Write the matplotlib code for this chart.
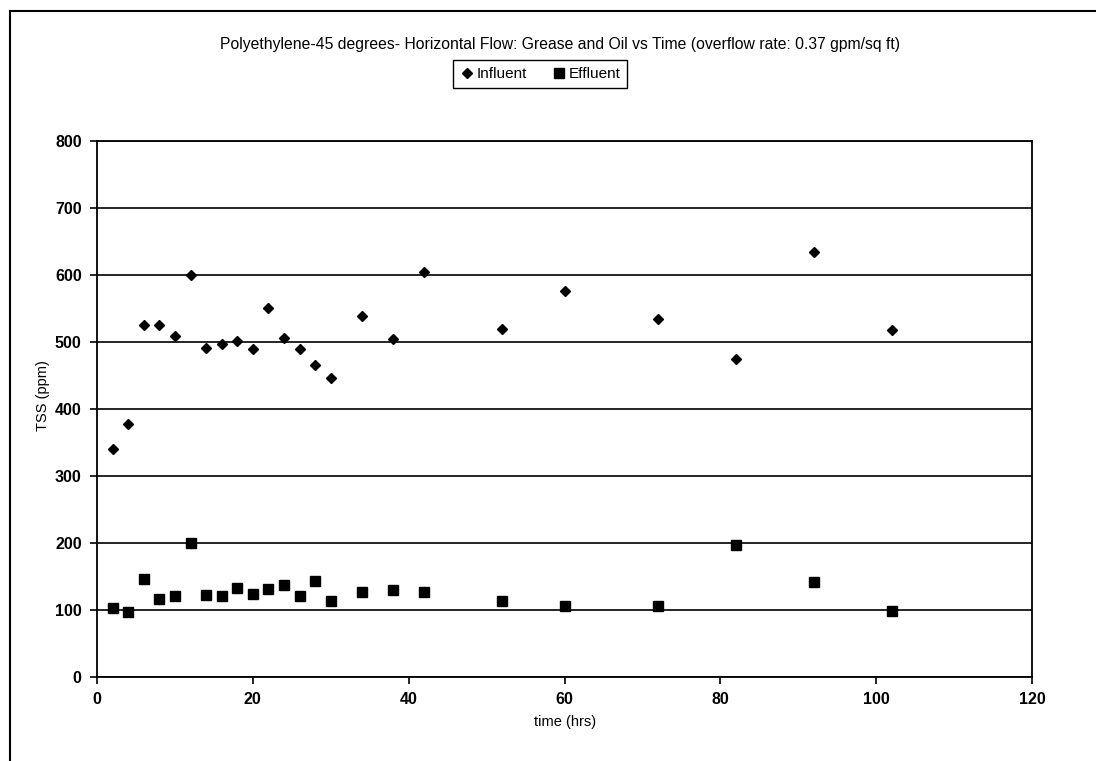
import matplotlib
matplotlib.use("Agg")
import matplotlib.pyplot as plt
from matplotlib.lines import Line2D

# ── data ──────────────────────────────────────────────────────────
time_hrs = [2, 4, 6, 8, 10, 12, 14, 16, 18, 20, 22, 24, 26, 28, 30,
            34, 38, 42, 52, 60, 72, 82, 92, 102]
influent = [340, 377, 525, 525, 509, 600, 491, 497, 502, 489, 551, 506, 490, 465, 447,
            539, 505, 604, 520, 576, 534, 474, 634, 518]
effluent = [103, 97, 147, 117, 121, 200, 123, 121, 133, 124, 131, 137, 121, 144, 114,
            127, 130, 127, 113, 106, 106, 197, 142, 98]

y_ticks = [0, 100, 200, 300, 400, 500, 600, 700, 800]
x_ticks = [0, 20, 40, 60, 80, 100, 120]

plt.rcParams["font.family"] = ["Liberation Sans", "DejaVu Sans"]

W, H = 1096, 761
fig = plt.figure(figsize=(W / 100, H / 100), dpi=100)
ax = fig.add_axes([97 / W, 1 - 677 / H, (1032 - 97) / W, (677 - 141) / H])

ax.plot(time_hrs, influent, linestyle="none", marker="D", markersize=5.5,
        color="black", label="Influent")
ax.plot(time_hrs, effluent, linestyle="none", marker="s", markersize=7,
        color="black", label="Effluent")

ax.set_xlim(0, 120)
ax.set_ylim(0, 800)
ax.set_xticks(x_ticks)
ax.set_yticks(y_ticks)
ax.yaxis.grid(True, color="black", lw=1.2)
ax.set_axisbelow(True)
for sp in ax.spines.values():
    sp.set_color("black")
    sp.set_linewidth(1.3)
ax.tick_params(direction="out", length=5, width=1.2, colors="black",
               labelsize=11.5, pad=6)
for lbl in ax.get_xticklabels() + ax.get_yticklabels():
    lbl.set_fontweight("bold")

fig.text(565 / W, 1 - 722 / H, "time (hrs)", ha="center", va="center", fontsize=10.5)
fig.text(43 / W, 1 - 396 / H, "TSS (ppm)", ha="center", va="center",
         rotation=90, fontsize=10.5)
fig.text(560 / W, 1 - 45 / H,
         "Polyethylene-45 degrees- Horizontal Flow: Grease and Oil vs Time "
         "(overflow rate: 0.37 gpm/sq ft)",
         ha="center", va="center", fontsize=11.3)

leg = fig.legend(loc="center", bbox_to_anchor=(540 / W, 1 - 74 / H), ncol=2,
                 fontsize=11, frameon=True, fancybox=False, framealpha=1,
                 edgecolor="black", handletextpad=0.1, columnspacing=1.6,
                 handlelength=1.0, borderpad=0.45)
leg.get_frame().set_linewidth(1.0)

# scanned page frame (top and left edges only)
fig.add_artist(Line2D([10 / W, 1.0], [1 - 11 / H, 1 - 11 / H],
                      transform=fig.transFigure, color="black", lw=1.5))
fig.add_artist(Line2D([10 / W, 10 / W], [0.0, 1 - 11 / H],
                      transform=fig.transFigure, color="black", lw=1.5))

fig.savefig("out.png", dpi=100, facecolor="white")
